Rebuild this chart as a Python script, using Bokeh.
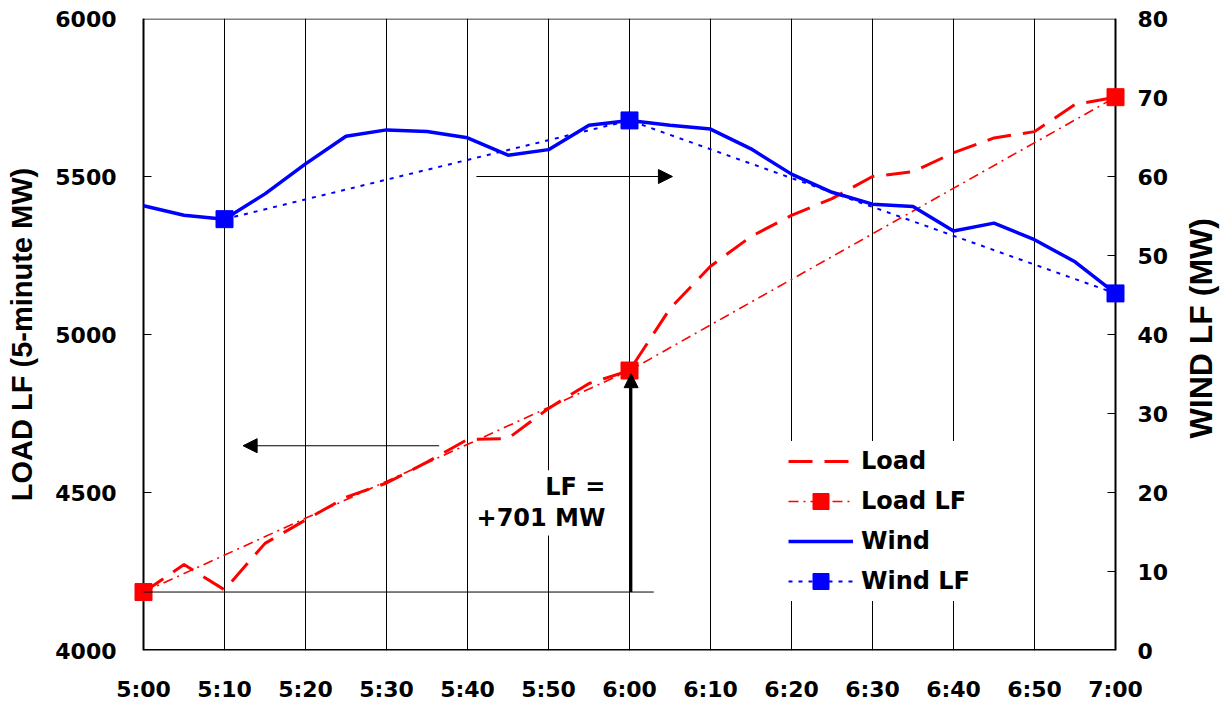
import math
from bokeh.plotting import figure
from bokeh.layouts import row
from bokeh.models import (Range1d, LinearAxis, FixedTicker, Legend, LegendItem,
                          Arrow, NormalHead, Label)
from bokeh.embed import file_html
from bokeh.resources import INLINE

# ---------------- data ----------------
times = ["5:00", "5:05", "5:10", "5:15", "5:20", "5:25", "5:30", "5:35", "5:40",
         "5:45", "5:50", "5:55", "6:00", "6:05", "6:10", "6:15", "6:20", "6:25",
         "6:30", "6:35", "6:40", "6:45", "6:50", "6:55", "7:00"]
load = [4184, 4272, 4192, 4339, 4413, 4485, 4530, 4596, 4668, 4671, 4766, 4845,
        4886, 5082, 5216, 5310, 5377, 5430, 5500, 5515, 5575, 5622, 5642, 5728, 5751]
wind = [56.3, 55.1, 54.6, 57.8, 61.6, 65.1, 65.9, 65.7, 64.9, 62.7, 63.4, 66.5,
        67.1, 66.5, 66.0, 63.5, 60.3, 58.0, 56.5, 56.2, 53.1, 54.1, 52.0, 49.2, 45.2]
load_lf_times = ["5:00", "6:00", "7:00"]
load_lf = [4185, 4886, 5751]
wind_lf_times = ["5:10", "6:00", "7:00"]
wind_lf = [54.6, 67.1, 45.2]
x_tick_labels = ["5:00", "5:10", "5:20", "5:30", "5:40", "5:50", "6:00",
                 "6:10", "6:20", "6:30", "6:40", "6:50", "7:00"]
load_ticks = [4000, 4500, 5000, 5500, 6000]
wind_ticks = [0, 10, 20, 30, 40, 50, 60, 70, 80]


def minutes(t):
    h, m = t.split(":")
    return (int(h) - 5) * 60 + int(m)


x = [minutes(t) for t in times]
x_llf = [minutes(t) for t in load_lf_times]
x_wlf = [minutes(t) for t in wind_lf_times]
x_ticks = [minutes(t) for t in x_tick_labels]

RED = "#FF0000"
BLUE = "#0000FF"
TICK_FONT = "DejaVu Sans"
TITLE_FONT = "Liberation Sans"

# geometry: the axes box is 972 x 632 px; the frame is widened by PAD px on each
# side so that the end markers are not clipped, and the axes are drawn by hand.
X0, X1 = 0, 120
YL0, YL1 = 4000, 6000
YR0, YR1 = 0, 80
PX_PER_MIN = 972 / (X1 - X0)
PX_PER_MW_L = 632 / (YL1 - YL0)
PX_PER_MW_R = 632 / (YR1 - YR0)
PAD = 10
TICK_LEN = 8
MARKER = 17

p = figure(width=1180, height=704, output_backend="svg", toolbar_location=None,
           x_range=Range1d(X0 - PAD / PX_PER_MIN, X1 + PAD / PX_PER_MIN),
           y_range=Range1d(YL0, YL1),
           min_border_left=133, min_border_right=55, min_border_top=18,
           min_border_bottom=54)
p.extra_y_ranges = {"wind": Range1d(YR0, YR1)}
p.background_fill_color = "white"
p.border_fill_color = "white"
p.outline_line_color = None

# grid
p.xgrid.ticker = FixedTicker(ticks=x_ticks)
p.xgrid.grid_line_color = "black"
p.xgrid.grid_line_width = 1
p.ygrid.grid_line_color = None

# axes (labels from Bokeh, lines and ticks drawn below)
xa = p.xaxis[0]
xa.ticker = FixedTicker(ticks=x_ticks)
xa.major_label_overrides = {xv: lab for xv, lab in zip(x_ticks, x_tick_labels)}

ya = p.yaxis[0]
ya.ticker = FixedTicker(ticks=load_ticks)
ya.axis_label = "LOAD LF (5-minute MW)"

ra = LinearAxis(y_range_name="wind", ticker=FixedTicker(ticks=wind_ticks))
p.add_layout(ra, "right")

for ax in (xa, ya, ra):
    ax.axis_line_color = None
    ax.major_tick_line_color = None
    ax.minor_tick_line_color = None
    ax.major_tick_in = 0
    ax.major_tick_out = 0
    ax.minor_tick_in = 0
    ax.minor_tick_out = 0
    ax.major_label_text_font = TICK_FONT
    ax.major_label_text_font_style = "bold"
    ax.major_label_text_font_size = "22px"
    ax.major_label_text_color = "black"
    ax.axis_label_text_font = TITLE_FONT
    ax.axis_label_text_font_style = "bold"
    ax.axis_label_text_font_size = "29px"
    ax.axis_label_text_color = "black"

xa.major_label_standoff = 26
ya.major_label_standoff = 17
ya.axis_label_standoff = 14
ra.major_label_standoff = 12

# hand-drawn box, axis lines and inward ticks
half_px_l = 0.5 / PX_PER_MW_L
p.segment(x0=[X0, X1], y0=[YL0, YL0], x1=[X0, X1], y1=[YL1, YL1],
          line_color="black", line_width=2)
p.segment(x0=[X0], y0=[YL0 + half_px_l], x1=[X1], y1=[YL0 + half_px_l],
          line_color="black", line_width=2)
p.segment(x0=[X0], y0=[YL1 - half_px_l], x1=[X1], y1=[YL1 - half_px_l],
          line_color="black", line_width=1)
tick_dx = TICK_LEN / PX_PER_MIN
inner_l = load_ticks[1:-1]
p.segment(x0=[X0] * len(inner_l), y0=inner_l,
          x1=[X0 + tick_dx] * len(inner_l), y1=inner_l,
          line_color="black", line_width=1)
inner_r = wind_ticks[1:-1]
p.segment(x0=[X1 - tick_dx] * len(inner_r), y0=inner_r,
          x1=[X1] * len(inner_r), y1=inner_r,
          line_color="black", line_width=1, y_range_name="wind")

# reference line at LF start (behind series)
p.add_layout(Arrow(end=None, x_start=0, y_start=4185, x_end=63, y_end=4185,
                   line_color="black", line_width=1))

# series
r_load = p.line(x, load, line_color=RED, line_width=3, line_dash="24 12")
r_llf_line = p.line(x_llf, load_lf, line_color=RED, line_width=1.6,
                    line_dash="10 5 2 5")
r_llf_pts = p.scatter(x_llf, load_lf, marker="square", size=MARKER,
                      fill_color=RED, line_color=RED)
r_wind = p.line(x, wind, line_color=BLUE, line_width=3.5, y_range_name="wind")
r_wlf_line = p.line(x_wlf, wind_lf, line_color=BLUE, line_width=2,
                    line_dash="4 6", y_range_name="wind")
r_wlf_pts = p.scatter(x_wlf, wind_lf, marker="square", size=MARKER,
                      fill_color=BLUE, line_color=BLUE, y_range_name="wind")

# arrows
head = dict(size=14, fill_color="black", line_color="black")
p.add_layout(Arrow(end=NormalHead(**head), x_start=41.1, y_start=5500,
                   x_end=65.3, y_end=5500, line_color="black", line_width=1.2))
p.add_layout(Arrow(end=NormalHead(**head), x_start=36.5, y_start=4648,
                   x_end=12.3, y_end=4648, line_color="black", line_width=1.2))
p.add_layout(Arrow(end=NormalHead(**head), x_start=60.2, y_start=4185,
                   x_end=60.2, y_end=4876, line_color="black", line_width=2.5))

# annotation text
for txt, yv in (("LF =", 4517), ("+701 MW", 4418)):
    p.add_layout(Label(x=57.4, y=yv, text=txt, text_align="right",
                       text_baseline="middle", text_font=TICK_FONT,
                       text_font_style="bold", text_font_size="24px",
                       text_color="black", background_fill_color="white",
                       padding=3))

legend = Legend(items=[
    LegendItem(label="Load", renderers=[r_load]),
    LegendItem(label="Load LF", renderers=[r_llf_line, r_llf_pts]),
    LegendItem(label="Wind", renderers=[r_wind]),
    LegendItem(label="Wind LF", renderers=[r_wlf_line, r_wlf_pts]),
], location=(655, 49))
legend.glyph_width = 65
legend.glyph_height = 40
legend.label_height = 40
legend.spacing = 0
legend.padding = 5
legend.margin = 0
legend.label_standoff = 8
legend.label_text_font = TICK_FONT
legend.label_text_font_style = "bold"
legend.label_text_font_size = "24px"
legend.label_text_color = "black"
legend.border_line_color = None
legend.background_fill_color = "white"
legend.background_fill_alpha = 1
p.add_layout(legend)

# right-hand axis title, reading bottom-to-top, in a narrow strip
t = figure(width=42, height=704, output_backend="svg", toolbar_location=None,
           x_range=Range1d(0, 42), y_range=Range1d(0, 704),
           x_axis_location=None, y_axis_location=None, min_border=0)
t.grid.visible = False
t.outline_line_color = None
t.background_fill_color = "white"
t.border_fill_color = "white"
t.add_layout(Label(x=20, y=359, text="WIND LF (MW)", angle=math.pi / 2,
                   text_align="center", text_baseline="middle",
                   text_font=TITLE_FONT, text_font_style="bold",
                   text_font_size="32px", text_color="black"))

layout = row(p, t)
open("out.html", "w").write(file_html(layout, INLINE))
